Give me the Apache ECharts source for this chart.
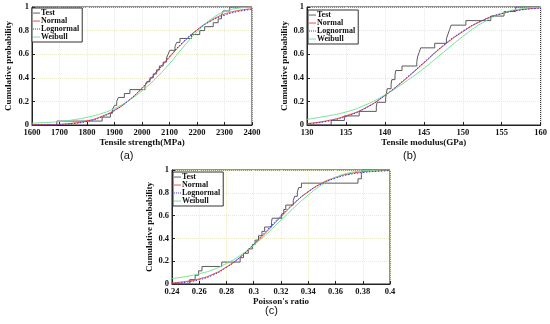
<!DOCTYPE html>
<html><head><meta charset="utf-8">
<script src="https://cdn.jsdelivr.net/npm/echarts@6/dist/echarts.min.js"></script>
<style>html,body{margin:0;padding:0;background:#fff}#c{width:550px;height:324px}</style>
</head><body><div id="c"></div>
<script>
// ---- Data ----
const seriesNames = ['Test', 'Normal', 'Lognormal', 'Weibull'];
const panelLabels = ['(a)', '(b)', '(c)'];
const xTitles = ['Tensile strength(MPa)', 'Tensile modulus(GPa)', "Poisson's ratio"];
const yTitle = 'Cumulative probability';

// (a) tensile strength
const testA = [1690,1855,1885,1893,1900,1908,1914,1936,1956,2011,2017,2029,2041,2053,2063,2077,2089,2095,2101,2120,2126,2138,2180,2210,2228,2259,2277,2289,2295,2319];
const xA = [1600,1650,1700,1750,1800,1850,1900,1950,2000,2050,2100,2150,2200,2250,2300,2350,2400];
const normalA = [0.001,0.003,0.006,0.016,0.035,0.07,0.125,0.205,0.31,0.44,0.575,0.70,0.805,0.885,0.94,0.97,0.985];
const lognormalA = [0.000,0.001,0.004,0.012,0.03,0.065,0.122,0.205,0.315,0.445,0.58,0.705,0.805,0.88,0.93,0.962,0.98];
const weibullA = [0.016,0.021,0.029,0.044,0.065,0.095,0.14,0.205,0.29,0.395,0.52,0.66,0.79,0.895,0.96,0.99,0.999];

// (b) tensile modulus
const testB = [133.1,134.8,136.7,138.9,139.0,140.1,140.2,140.3,140.8,140.9,141.3,141.4,142.2,144.1,144.2,144.4,144.6,146.4,147.9,148.1,148.3,148.5,150.4,153.6,155.3,156.8];
const xB = [130,132.5,135,137.5,140,142.5,145,147.5,150,152.5,155,157.5,160];
const normalB = [0.012,0.035,0.078,0.145,0.25,0.38,0.525,0.67,0.79,0.885,0.945,0.978,0.993];
const lognormalB = [0.01,0.03,0.072,0.142,0.25,0.385,0.53,0.675,0.795,0.885,0.943,0.975,0.99];
const weibullB = [0.048,0.075,0.11,0.17,0.255,0.36,0.48,0.615,0.75,0.865,0.945,0.985,0.998];

// (c) Poisson's ratio
const testC = [0.253,0.257,0.2595,0.262,0.2765,0.290,0.2925,0.296,0.299,0.301,0.3035,0.306,0.308,0.313,0.3135,0.3205,0.322,0.3235,0.329,0.330,0.332,0.333,0.335,0.3765,0.379,0.380];
const xC = [0.24,0.25,0.26,0.27,0.28,0.29,0.30,0.31,0.32,0.33,0.34,0.35,0.36,0.37,0.38,0.39,0.40];
const normalC = [0.01,0.022,0.045,0.085,0.15,0.235,0.345,0.465,0.59,0.71,0.81,0.885,0.935,0.967,0.985,0.993,0.997];
const lognormalC = [0.005,0.015,0.037,0.078,0.145,0.235,0.35,0.475,0.60,0.715,0.81,0.88,0.928,0.96,0.978,0.988,0.994];
const weibullC = [0.048,0.065,0.09,0.125,0.18,0.25,0.34,0.445,0.56,0.675,0.78,0.87,0.935,0.975,0.992,0.998,1.0];

const xMin = [1600, 130, 0.24];
const xMax = [2400, 160, 0.40];
const xInterval = [100, 5, 0.02];

// ---- Build ----
const FONT = 'Liberation Serif';
const panels = [
  {test: testA, x: xA, n: normalA, l: lognormalA, w: weibullA},
  {test: testB, x: xB, n: normalB, l: lognormalB, w: weibullB},
  {test: testC, x: xC, n: normalC, l: lognormalC, w: weibullC}
];
const gridPos = [
  {left: 32, top: 7, width: 220, height: 118},
  {left: 307, top: 7, width: 236, height: 118},
  {left: 172, top: 170, width: 218, height: 114}
];
const yGap = [19, 15, 16];
const xGap = [12, 13, 9];
const legendPos = [{left: 32, top: 8}, {left: 308, top: 10}, {left: 173, top: 172}];
const labelPos = [[128, 157], [411, 157], [273, 312]];

const colors = {Test: '#5a5a5a', Normal: '#f04848', Lognormal: '#3c3cd8', Weibull: '#6ee596'};
const solidIcon = 'path://M0,0M8,8M0,3.5L8,3.5L8,4.6L0,4.6Z';
const dotIcon = 'path://M0,0M8,8M0,3.5L1.2,3.5L1.2,4.6L0,4.6Z M2.3,3.5L3.5,3.5L3.5,4.6L2.3,4.6Z M4.6,3.5L5.8,3.5L5.8,4.6L4.6,4.6Z M6.9,3.5L8,3.5L8,4.6L6.9,4.6Z';

function ecdf(values, lo, hi) {
  const pts = [[lo, 0]];
  values.forEach((v, i) => pts.push([v, (i + 1) / values.length]));
  pts.push([hi, 1]);
  return pts;
}
function pair(xs, ys) { return xs.map((x, i) => [x, ys[i]]); }

const option = {
  animation: false,
  backgroundColor: '#fff',
  grid: [], xAxis: [], yAxis: [], series: [], legend: [], graphic: []
};

panels.forEach((p, k) => {
  option.grid.push(Object.assign({show: true, borderColor: '#222', borderWidth: 1, containLabel: false}, gridPos[k]));
  option.xAxis.push({
    type: 'value', gridIndex: k, min: xMin[k], max: xMax[k], interval: xInterval[k],
    name: xTitles[k], nameLocation: 'middle', nameGap: xGap[k],
    nameTextStyle: {fontFamily: FONT, fontWeight: 'bold', fontSize: 9, color: '#111'},
    axisLine: {show: true, lineStyle: {color: '#222'}},
    axisTick: {show: true, inside: true, length: 3, lineStyle: {color: '#222'}},
    axisLabel: {fontFamily: FONT, fontWeight: 'bold', fontSize: 8.5, color: '#111', margin: 3,
      formatter: v => String(+v.toFixed(4))},
    splitLine: {show: true, lineStyle: {color: '#ececcc', type: 'dotted', width: 1}}
  });
  option.yAxis.push({
    type: 'value', gridIndex: k, min: 0, max: 1, interval: 0.2,
    name: yTitle, nameLocation: 'middle', nameGap: yGap[k],
    nameTextStyle: {fontFamily: FONT, fontWeight: 'bold', fontSize: 9, color: '#111'},
    axisLine: {show: true, lineStyle: {color: '#222'}},
    axisTick: {show: true, inside: true, length: 3, lineStyle: {color: '#222'}},
    axisLabel: {fontFamily: FONT, fontWeight: 'bold', fontSize: 8.5, color: '#111', margin: 3,
      formatter: v => String(+v.toFixed(2))},
    splitLine: {show: true, lineStyle: {color: '#ececcc', type: 'dotted', width: 1}}
  });
  option.series.push({
    name: 'Test', type: 'line', xAxisIndex: k, yAxisIndex: k, step: 'end', showSymbol: false, symbol: 'none',
    data: ecdf(p.test, xMin[k], xMax[k]), lineStyle: {color: colors.Test, width: 1}, itemStyle: {color: colors.Test}, z: 2
  });
  option.series.push({
    name: 'Normal', type: 'line', xAxisIndex: k, yAxisIndex: k, smooth: true, showSymbol: false, symbol: 'none',
    data: pair(p.x, p.n), lineStyle: {color: colors.Normal, width: 1}, itemStyle: {color: colors.Normal}, z: 3
  });
  option.series.push({
    name: 'Lognormal', type: 'line', xAxisIndex: k, yAxisIndex: k, smooth: true, showSymbol: false, symbol: 'none',
    data: pair(p.x, p.l), lineStyle: {color: colors.Lognormal, width: 1, type: [1.5, 1.5]}, itemStyle: {color: colors.Lognormal}, z: 4
  });
  option.series.push({
    name: 'Weibull', type: 'line', xAxisIndex: k, yAxisIndex: k, smooth: true, showSymbol: false, symbol: 'none',
    data: pair(p.x, p.w), lineStyle: {color: colors.Weibull, width: 1}, itemStyle: {color: colors.Weibull}, z: 3
  });
  option.legend.push(Object.assign({
    orient: 'vertical', itemGap: 0, itemWidth: 7, itemHeight: 8, padding: [1, 3, 1, 1],
    backgroundColor: '#fff', borderColor: '#333', borderWidth: 1, borderRadius: 0,
    selectedMode: false,
    itemStyle: {borderWidth: 0},
    textStyle: {fontFamily: FONT, fontWeight: 'bold', fontSize: 8, color: '#111', padding: [0, 0, 0, -4]},
    data: seriesNames.map(n => ({name: n, icon: n === 'Lognormal' ? dotIcon : solidIcon,
      itemStyle: {color: colors[n], borderWidth: 0}}))
  }, legendPos[k]));
  option.graphic.push({
    type: 'text', left: labelPos[k][0] - 8, top: labelPos[k][1] - 7,
    style: {text: panelLabels[k], font: '11px "Liberation Sans"', fill: '#111'}
  });
});

const chart = echarts.init(document.getElementById('c'), null, {renderer: 'canvas'});
chart.setOption(option);
</script>
</body></html>
